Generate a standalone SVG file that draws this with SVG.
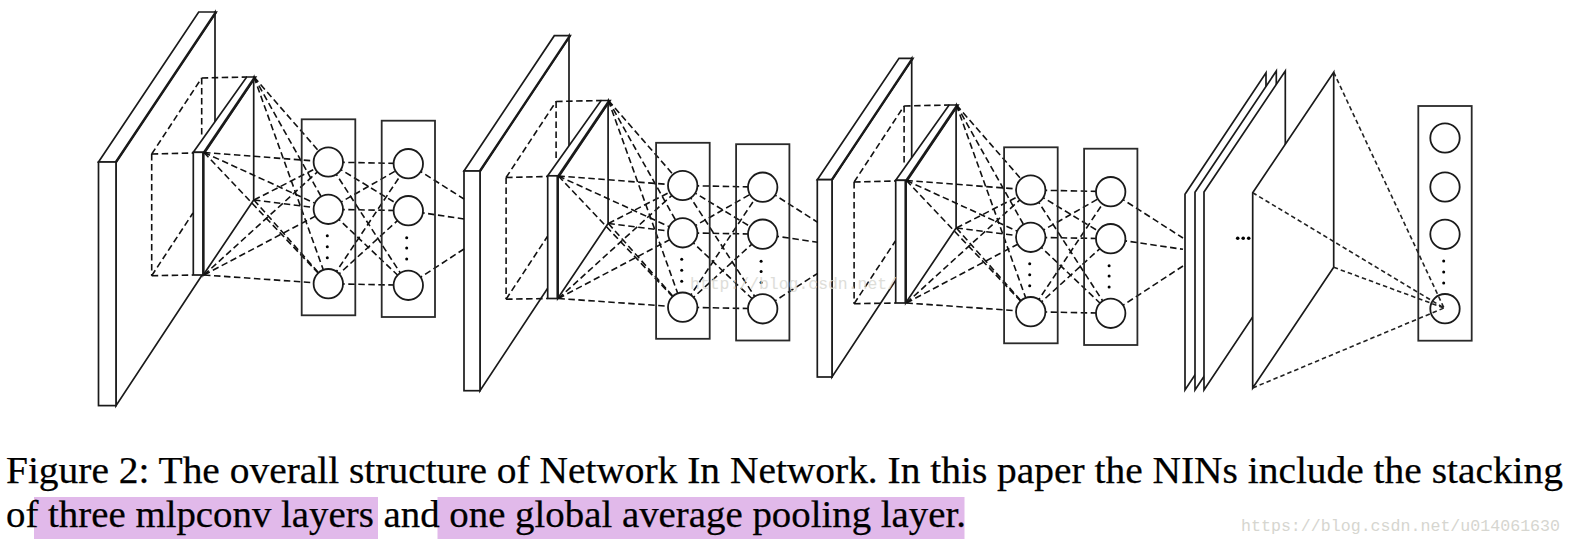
<svg xmlns="http://www.w3.org/2000/svg" width="1572" height="544" viewBox="0 0 1572 544">
<style>
.s{fill:#fff;stroke:#1a1a1a;stroke-width:1.7;stroke-linejoin:miter}
.e{fill:none;stroke:#1a1a1a;stroke-width:2.4}
.l{fill:none;stroke:#2a2a2a;stroke-width:1.8}
.c{fill:#fff;stroke:#1a1a1a;stroke-width:1.8}
.d{fill:#000;stroke:none}
.k line{stroke:#111;stroke-width:1.6;stroke-dasharray:6.5 3.5;fill:none}
.f line{stroke:#222;stroke-width:1.6;stroke-dasharray:4.5 3;fill:none}
.t{font-family:"Liberation Serif","Times New Roman",serif;font-size:38px;fill:#000;stroke:#000;stroke-width:.25}
.w{font-family:"Liberation Mono","Courier New",monospace;font-size:17px;fill:#d6d6d0}
</style>
<rect width="1572" height="544" fill="#fff"/>
<g id="input-slab-1">
<polygon class="s" points="116,162 215,12 215,255.5 116,405.6"/>
<polygon class="s" points="98.5,162 198.7,12 216.3,12 116,162"/>
<rect class="s" x="98.5" y="162" width="17.5" height="243.6"/>
<line class="e" x1="116" y1="162" x2="216" y2="12"/>
</g>
<g id="conv-slab-1">
<polygon class="s" points="203.3,152.3 253.7,77 253.7,200 203.3,275"/>
<polygon class="s" points="193.3,152.3 246.7,77 255.7,77 205,152.3"/>
<rect class="s" x="193.3" y="152.3" width="10" height="122.7"/>
<line class="e" x1="203.3" y1="152.3" x2="203.3" y2="275"/>
<line class="e" x1="204" y1="152.3" x2="255" y2="77"/>
</g>
<g id="input-slab-2">
<polygon class="s" points="480,171 569,35.7 569,256 480,390.7"/>
<polygon class="s" points="464,171 554.3,35.7 570.3,35.7 480,171"/>
<rect class="s" x="464" y="171" width="16" height="219.7"/>
<line class="e" x1="480" y1="171" x2="570" y2="35.7"/>
</g>
<g id="conv-slab-2" transform="translate(354.4,23.5)">
<polygon class="s" points="203.3,152.3 253.7,77 253.7,200 203.3,275"/>
<polygon class="s" points="193.3,152.3 246.7,77 255.7,77 205,152.3"/>
<rect class="s" x="193.3" y="152.3" width="10" height="122.7"/>
<line class="e" x1="203.3" y1="152.3" x2="203.3" y2="275"/>
<line class="e" x1="204" y1="152.3" x2="255" y2="77"/>
</g>
<g id="input-slab-3">
<polygon class="s" points="832,179.7 911.7,58.3 911.7,256 832,377"/>
<polygon class="s" points="817.3,179.7 899,58.3 913,58.3 832,179.7"/>
<rect class="s" x="817.3" y="179.7" width="14.7" height="197.3"/>
<line class="e" x1="832" y1="179.7" x2="912.5" y2="58.3"/>
</g>
<g id="conv-slab-3" transform="translate(702.4,28)">
<polygon class="s" points="203.3,152.3 253.7,77 253.7,200 203.3,275"/>
<polygon class="s" points="193.3,152.3 246.7,77 255.7,77 205,152.3"/>
<rect class="s" x="193.3" y="152.3" width="10" height="122.7"/>
<line class="e" x1="203.3" y1="152.3" x2="203.3" y2="275"/>
<line class="e" x1="204" y1="152.3" x2="255" y2="77"/>
</g>
<g id="feature-map-1"><polygon class="s" points="1185,194.3 1266,72.7 1266,268 1185,390"/></g>
<g id="feature-map-2"><polygon class="s" points="1195,192.3 1276.3,71 1276.3,268 1195,390"/></g>
<g id="feature-map-3"><polygon class="s" points="1204,192 1285.3,71 1285.3,268 1204,390"/></g>
<g id="gap-dots">
<circle class="d" cx="1237.7" cy="238.3" r="1.8"/><circle class="d" cx="1243.2" cy="238.3" r="1.8"/><circle class="d" cx="1248.7" cy="238.3" r="1.8"/>
</g>
<g id="feature-map-4"><polygon class="s" points="1252.7,192.7 1333.7,72.3 1333.7,267.3 1252.7,388"/></g>
<g id="output-layer">
<rect class="l" x="1418.3" y="106" width="53.4" height="234.7"/>
<g id="out-1"><circle class="c" cx="1445" cy="138" r="14.7"/></g>
<g id="out-2"><circle class="c" cx="1445" cy="187" r="14.7"/></g>
<g id="out-3"><circle class="c" cx="1445" cy="234.3" r="14.7"/></g>
<g id="out-n"><circle class="c" cx="1445" cy="308.7" r="14.7"/></g>
<circle class="d" cx="1443.7" cy="261" r="1.5"/><circle class="d" cx="1443.7" cy="272" r="1.5"/><circle class="d" cx="1443.7" cy="283" r="1.5"/>
</g>
<g id="connectors">
<g class="k">
<line x1="151.7" y1="154" x2="201.7" y2="78"/><line x1="201.7" y1="78" x2="247" y2="77"/><line x1="201.7" y1="78" x2="201.7" y2="136"/><line x1="151.7" y1="154" x2="151.7" y2="275.7"/><line x1="151.7" y1="154" x2="193" y2="153"/><line x1="151.7" y1="275.7" x2="193" y2="275"/><line x1="151.7" y1="275.7" x2="193" y2="213"/>
<line x1="254" y1="77" x2="328.3" y2="162"/><line x1="254" y1="77" x2="328.3" y2="209.3"/><line x1="254" y1="77" x2="328.3" y2="283.7"/>
<line x1="254" y1="200" x2="328.3" y2="162"/><line x1="254" y1="200" x2="328.3" y2="209.3"/><line x1="254" y1="200" x2="328.3" y2="283.7"/>
<line x1="204" y1="152.5" x2="328.3" y2="162"/><line x1="204" y1="152.5" x2="328.3" y2="209.3"/><line x1="204" y1="152.5" x2="328.3" y2="283.7"/>
<line x1="204" y1="275" x2="328.3" y2="162"/><line x1="204" y1="275" x2="328.3" y2="209.3"/><line x1="204" y1="275" x2="328.3" y2="283.7"/>
<line x1="328.3" y1="162" x2="408.3" y2="163.7"/><line x1="328.3" y1="162" x2="408.3" y2="210.7"/><line x1="328.3" y1="162" x2="408.3" y2="285.3"/>
<line x1="328.3" y1="209.3" x2="408.3" y2="163.7"/><line x1="328.3" y1="209.3" x2="408.3" y2="210.7"/><line x1="328.3" y1="209.3" x2="408.3" y2="285.3"/>
<line x1="328.3" y1="283.7" x2="408.3" y2="163.7"/><line x1="328.3" y1="283.7" x2="408.3" y2="210.7"/><line x1="328.3" y1="283.7" x2="408.3" y2="285.3"/>
<line x1="408.3" y1="163.7" x2="464" y2="199"/><line x1="408.3" y1="210.7" x2="464" y2="219"/><line x1="408.3" y1="285.3" x2="464" y2="249"/>
</g>
<g class="k" transform="translate(354.4,23.5)">
<line x1="151.7" y1="154" x2="201.7" y2="78"/><line x1="201.7" y1="78" x2="247" y2="77"/><line x1="201.7" y1="78" x2="201.7" y2="136"/><line x1="151.7" y1="154" x2="151.7" y2="275.7"/><line x1="151.7" y1="154" x2="193" y2="153"/><line x1="151.7" y1="275.7" x2="193" y2="275"/><line x1="151.7" y1="275.7" x2="193" y2="213"/>
<line x1="254" y1="77" x2="328.3" y2="162"/><line x1="254" y1="77" x2="328.3" y2="209.3"/><line x1="254" y1="77" x2="328.3" y2="283.7"/>
<line x1="254" y1="200" x2="328.3" y2="162"/><line x1="254" y1="200" x2="328.3" y2="209.3"/><line x1="254" y1="200" x2="328.3" y2="283.7"/>
<line x1="204" y1="152.5" x2="328.3" y2="162"/><line x1="204" y1="152.5" x2="328.3" y2="209.3"/><line x1="204" y1="152.5" x2="328.3" y2="283.7"/>
<line x1="204" y1="275" x2="328.3" y2="162"/><line x1="204" y1="275" x2="328.3" y2="209.3"/><line x1="204" y1="275" x2="328.3" y2="283.7"/>
<line x1="328.3" y1="162" x2="408.3" y2="163.7"/><line x1="328.3" y1="162" x2="408.3" y2="210.7"/><line x1="328.3" y1="162" x2="408.3" y2="285.3"/>
<line x1="328.3" y1="209.3" x2="408.3" y2="163.7"/><line x1="328.3" y1="209.3" x2="408.3" y2="210.7"/><line x1="328.3" y1="209.3" x2="408.3" y2="285.3"/>
<line x1="328.3" y1="283.7" x2="408.3" y2="163.7"/><line x1="328.3" y1="283.7" x2="408.3" y2="210.7"/><line x1="328.3" y1="283.7" x2="408.3" y2="285.3"/>
<line x1="408.3" y1="163.7" x2="463.3" y2="198.8"/><line x1="408.3" y1="210.7" x2="463.3" y2="218.8"/><line x1="408.3" y1="285.3" x2="463.3" y2="249.8"/>
</g>
<g class="k" transform="translate(702.4,28)">
<line x1="151.7" y1="154" x2="201.7" y2="78"/><line x1="201.7" y1="78" x2="247" y2="77"/><line x1="201.7" y1="78" x2="201.7" y2="136"/><line x1="151.7" y1="154" x2="151.7" y2="275.7"/><line x1="151.7" y1="154" x2="193" y2="153"/><line x1="151.7" y1="275.7" x2="193" y2="275"/><line x1="151.7" y1="275.7" x2="193" y2="213"/>
<line x1="254" y1="77" x2="328.3" y2="162"/><line x1="254" y1="77" x2="328.3" y2="209.3"/><line x1="254" y1="77" x2="328.3" y2="283.7"/>
<line x1="254" y1="200" x2="328.3" y2="162"/><line x1="254" y1="200" x2="328.3" y2="209.3"/><line x1="254" y1="200" x2="328.3" y2="283.7"/>
<line x1="204" y1="152.5" x2="328.3" y2="162"/><line x1="204" y1="152.5" x2="328.3" y2="209.3"/><line x1="204" y1="152.5" x2="328.3" y2="283.7"/>
<line x1="204" y1="275" x2="328.3" y2="162"/><line x1="204" y1="275" x2="328.3" y2="209.3"/><line x1="204" y1="275" x2="328.3" y2="283.7"/>
<line x1="328.3" y1="162" x2="408.3" y2="163.7"/><line x1="328.3" y1="162" x2="408.3" y2="210.7"/><line x1="328.3" y1="162" x2="408.3" y2="285.3"/>
<line x1="328.3" y1="209.3" x2="408.3" y2="163.7"/><line x1="328.3" y1="209.3" x2="408.3" y2="210.7"/><line x1="328.3" y1="209.3" x2="408.3" y2="285.3"/>
<line x1="328.3" y1="283.7" x2="408.3" y2="163.7"/><line x1="328.3" y1="283.7" x2="408.3" y2="210.7"/><line x1="328.3" y1="283.7" x2="408.3" y2="285.3"/>
<line x1="408.3" y1="163.7" x2="480.6" y2="210"/><line x1="408.3" y1="210.7" x2="480.6" y2="221.3"/><line x1="408.3" y1="285.3" x2="480.6" y2="238"/>
</g>
<g class="f">
<line x1="1333.7" y1="72.3" x2="1444" y2="308"/><line x1="1252.7" y1="192.7" x2="1444" y2="308"/><line x1="1333.7" y1="267.3" x2="1444" y2="308"/><line x1="1252.7" y1="388" x2="1444" y2="308"/>
</g>
</g>
<g id="mlp-1a">
<rect class="l" x="301.7" y="119.3" width="53.6" height="196"/>
<g id="n1a1"><circle class="c" cx="328.3" cy="162" r="14.7"/></g><g id="n1a2"><circle class="c" cx="328.3" cy="209.3" r="14.7"/></g><g id="n1a3"><circle class="c" cx="328.3" cy="283.7" r="14.7"/></g>
<circle class="d" cx="327.3" cy="235.7" r="1.5"/><circle class="d" cx="327.3" cy="246.7" r="1.5"/><circle class="d" cx="327.3" cy="257.7" r="1.5"/>
</g>
<g id="mlp-1b">
<rect class="l" x="381.7" y="120.7" width="53.3" height="196.3"/>
<g id="n1b1"><circle class="c" cx="408.3" cy="163.7" r="14.7"/></g><g id="n1b2"><circle class="c" cx="408.3" cy="210.7" r="14.7"/></g><g id="n1b3"><circle class="c" cx="408.3" cy="285.3" r="14.7"/></g>
<circle class="d" cx="406.7" cy="237.7" r="1.5"/><circle class="d" cx="406.7" cy="248" r="1.5"/><circle class="d" cx="406.7" cy="259" r="1.5"/>
</g>
<g id="mlp-2a" transform="translate(354.4,23.5)">
<rect class="l" x="301.7" y="119.3" width="53.6" height="196"/>
<g id="n2a1"><circle class="c" cx="328.3" cy="162" r="14.7"/></g><g id="n2a2"><circle class="c" cx="328.3" cy="209.3" r="14.7"/></g><g id="n2a3"><circle class="c" cx="328.3" cy="283.7" r="14.7"/></g>
<circle class="d" cx="327.3" cy="235.7" r="1.5"/><circle class="d" cx="327.3" cy="246.7" r="1.5"/><circle class="d" cx="327.3" cy="257.7" r="1.5"/>
</g>
<g id="mlp-2b" transform="translate(354.4,23.5)">
<rect class="l" x="381.7" y="120.7" width="53.3" height="196.3"/>
<g id="n2b1"><circle class="c" cx="408.3" cy="163.7" r="14.7"/></g><g id="n2b2"><circle class="c" cx="408.3" cy="210.7" r="14.7"/></g><g id="n2b3"><circle class="c" cx="408.3" cy="285.3" r="14.7"/></g>
<circle class="d" cx="406.7" cy="237.7" r="1.5"/><circle class="d" cx="406.7" cy="248" r="1.5"/><circle class="d" cx="406.7" cy="259" r="1.5"/>
</g>
<g id="mlp-3a" transform="translate(702.4,28)">
<rect class="l" x="301.7" y="119.3" width="53.6" height="196"/>
<g id="n3a1"><circle class="c" cx="328.3" cy="162" r="14.7"/></g><g id="n3a2"><circle class="c" cx="328.3" cy="209.3" r="14.7"/></g><g id="n3a3"><circle class="c" cx="328.3" cy="283.7" r="14.7"/></g>
<circle class="d" cx="327.3" cy="235.7" r="1.5"/><circle class="d" cx="327.3" cy="246.7" r="1.5"/><circle class="d" cx="327.3" cy="257.7" r="1.5"/>
</g>
<g id="mlp-3b" transform="translate(702.4,28)">
<rect class="l" x="381.7" y="120.7" width="53.3" height="196.3"/>
<g id="n3b1"><circle class="c" cx="408.3" cy="163.7" r="14.7"/></g><g id="n3b2"><circle class="c" cx="408.3" cy="210.7" r="14.7"/></g><g id="n3b3"><circle class="c" cx="408.3" cy="285.3" r="14.7"/></g>
<circle class="d" cx="406.7" cy="237.7" r="1.5"/><circle class="d" cx="406.7" cy="248" r="1.5"/><circle class="d" cx="406.7" cy="259" r="1.5"/>
</g>
<g id="caption">
<rect x="34" y="497" width="344" height="42" fill="#e1b9ea"/>
<rect x="437.5" y="497" width="527" height="42" fill="#e1b9ea"/>
<text class="t" x="6" y="483" textLength="1557" lengthAdjust="spacingAndGlyphs">Figure 2: The overall structure of Network In Network. In this paper the NINs include the stacking</text>
<text class="t" x="6" y="526.5" textLength="960" lengthAdjust="spacingAndGlyphs">of three mlpconv layers and one global average pooling layer.</text>
</g>
<g id="watermarks">
<text class="w" x="690" y="289" textLength="207" lengthAdjust="spacingAndGlyphs" opacity=".8">http://blog.csdn.net/</text>
<text class="w" x="1241" y="530.5" textLength="319" lengthAdjust="spacingAndGlyphs">https://blog.csdn.net/u014061630</text>
</g>
</svg>
